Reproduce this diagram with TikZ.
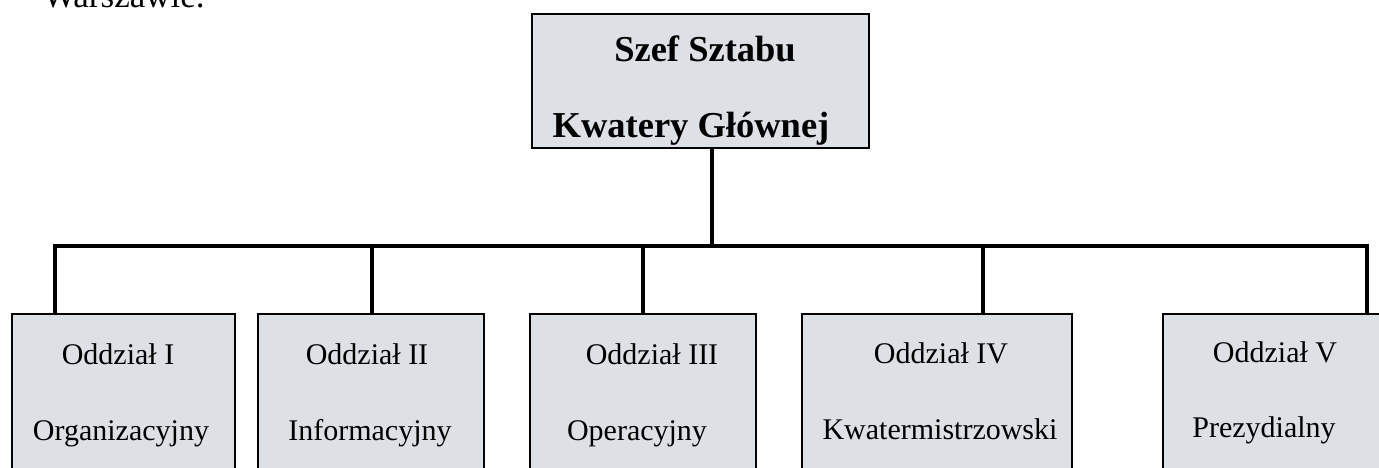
\documentclass[tikz,border=0pt]{standalone}
\usepackage{fontspec}
\setmainfont{Liberation Serif}
\definecolor{boxfill}{RGB}{221,224,228}
\begin{document}
\begin{tikzpicture}[x=1pt,y=-1pt,
  box/.style={draw=black, line width=1.5pt, fill=boxfill, inner sep=0pt, outer sep=0pt, anchor=north west},
  link/.style={line width=4.5pt, line cap=rect},
  lbl/.style={anchor=base, inner sep=0pt, font=\fontsize{30}{36}\selectfont},
  ttl/.style={anchor=base, inner sep=0pt, font=\fontsize{36.5}{44}\selectfont\bfseries}]
\useasboundingbox (0,0) rectangle (1379,468);
\fill[white] (0,0) rectangle (1379,468);
% partial line of text above
\node[anchor=base west, inner sep=0pt, font=\fontsize{35}{42}\selectfont] (warsz) at (43,8) {Warszawie.};
% top box
\node[box, minimum width=337pt, minimum height=134pt] (top) at (532,14) {};
\node[ttl] (t1) at (705,62) {Szef Sztabu};
\node[ttl] (t2) at (691,138) {Kwatery Głównej};
% bottom boxes
\node[box, minimum width=223pt, minimum height=200pt] (b1) at (12,314) {};
\node[box, minimum width=226pt, minimum height=200pt] (b2) at (258,314) {};
\node[box, minimum width=226pt, minimum height=200pt] (b3) at (530,314) {};
\node[box, minimum width=270pt, minimum height=200pt] (b4) at (802,314) {};
\node[box, minimum width=257pt, minimum height=200pt] (b5) at (1163,314) {};
% labels
\node[lbl] (l1a) at (118,364) {Oddział I};
\node[lbl] (l1b) at (121,440) {Organizacyjny};
\node[lbl] (l2a) at (367,364) {Oddział II};
\node[lbl] (l2b) at (370,440) {Informacyjny};
\node[lbl] (l3a) at (652,364) {Oddział III};
\node[lbl] (l3b) at (637,440) {Operacyjny};
\node[lbl] (l4a) at (941,363) {Oddział IV};
\node[lbl] (l4b) at (940,439) {Kwatermistrzowski};
\node[lbl] (l5a) at (1275,362) {Oddział V};
\node[lbl] (l5b) at (1264,437) {Prezydialny};
% connectors
\coordinate (tdrop) at ([xshift=11.5pt]top.south);
\coordinate (hub) at (712,246);
\coordinate (d1) at ([xshift=-68.5pt]b1.north);
\coordinate (d2) at ([xshift=1pt]b2.north);
\coordinate (d3) at (b3.north);
\coordinate (d4) at ([xshift=46pt]b4.north);
\coordinate (d5) at ([xshift=75.5pt]b5.north);
\draw[link, line cap=butt] (tdrop) -- (hub);
\draw[link, line cap=butt, line join=miter] (d1) -- (d1 |- hub) -- (d5 |- hub) -- (d5);
\draw[link, line cap=butt] (d2) -- (d2 |- hub);
\draw[link, line cap=butt] (d3) -- (d3 |- hub);
\draw[link, line cap=butt] (d4) -- (d4 |- hub);
\end{tikzpicture}
\end{document}
